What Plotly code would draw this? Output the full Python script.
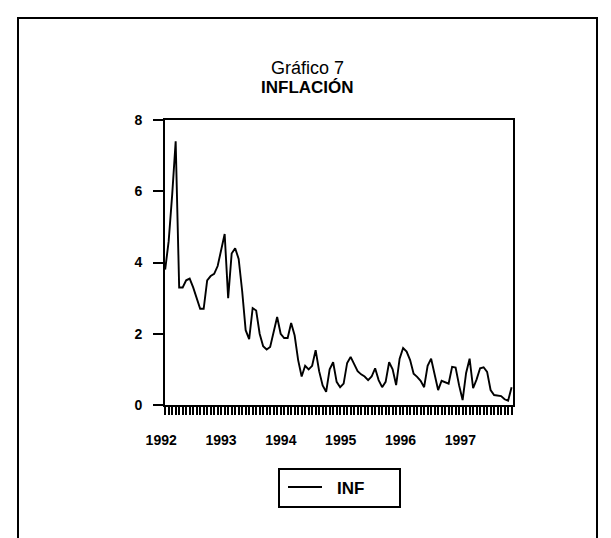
import plotly.graph_objects as go

# monthly inflation series
inf = [
    3.8, 4.6, 5.9, 7.4, 3.3, 3.3, 3.5, 3.55, 3.3, 3.0,
    2.7, 2.7, 3.5, 3.62, 3.68, 3.9, 4.35, 4.8, 3.0, 4.25,
    4.4, 4.1, 3.2, 2.1, 1.85, 2.72, 2.65, 2.0, 1.65, 1.56,
    1.63, 2.05, 2.47, 2.0, 1.88, 1.88, 2.3, 1.95, 1.26, 0.8,
    1.1, 1.0, 1.1, 1.54, 0.95, 0.55, 0.37, 1.0, 1.2, 0.65,
    0.5, 0.6, 1.18, 1.35, 1.15, 0.95, 0.86, 0.8, 0.7, 0.8,
    1.03, 0.7, 0.5, 0.65, 1.2, 1.0, 0.56, 1.3, 1.6, 1.5,
    1.26, 0.88, 0.79, 0.68, 0.5, 1.1, 1.3, 0.85, 0.42, 0.68,
    0.65, 0.6, 1.07, 1.05, 0.55, 0.14, 0.9, 1.3, 0.47, 0.72,
    1.03, 1.06, 0.93, 0.42, 0.28, 0.27, 0.25, 0.16, 0.12, 0.5,
]
obs = list(range(len(inf)))
years = ["1992", "1993", "1994", "1995", "1996", "1997"]
y_ticks = [0, 2, 4, 6, 8]

W, H = 611, 538
OFF = 8  # page body margin
L, R, T, B = 165 - OFF, 513 - OFF, 120 - OFF, 405 - OFF  # plot box in figure px

FONT = "Liberation Sans, Arial"


def px(x):  # screen x -> paper
    return (x - OFF - L) / (R - L)


def py(y):  # screen y -> paper
    return (B - (y - OFF)) / (B - T)


fig = go.Figure()
fig.add_trace(go.Scatter(x=obs, y=inf, mode="lines", name="INF",
                         line=dict(color="black", width=1.9), showlegend=False))

tick_font = dict(family=FONT, size=14, color="black", weight="bold")

fig.update_layout(
    width=W, height=H,
    margin=dict(l=L, r=W - R, t=T, b=H - B),
    paper_bgcolor="white", plot_bgcolor="white",
    xaxis=dict(
        range=[-0.05, 99.4], showgrid=False, zeroline=False,
        showline=True, linecolor="black", linewidth=2, mirror=True,
        tickvals=[i * 17.1 for i in range(len(years))], ticktext=years,
        ticks="outside", ticklen=0, ticklabelstandoff=21, ticklabelshift=-4,
        tickfont=tick_font,
        minor=dict(dtick=1, tick0=0, ticks="outside", ticklen=8,
                   tickwidth=2, tickcolor="black", showgrid=False),
    ),
    yaxis=dict(
        range=[0, 8], showgrid=False, zeroline=False,
        showline=True, linecolor="black", linewidth=2, mirror=True,
        tickvals=y_ticks, ticks="outside", ticklen=10, tickwidth=2,
        tickcolor="black", ticklabelstandoff=8,
        tickfont=tick_font,
    ),
)

# outer frame (open at the bottom)
fig.add_shape(type="rect", xref="paper", yref="paper",
              x0=px(18), x1=px(597), y0=py(570), y1=py(18),
              line=dict(color="black", width=2), layer="below")

# titles
fig.add_annotation(x=px(307), y=py(68), xref="paper", yref="paper",
                   text="Gráfico 7", showarrow=False, yanchor="middle",
                   font=dict(family=FONT, size=18, color="black"))
fig.add_annotation(x=px(307), y=py(87), xref="paper", yref="paper",
                   text="<b>INFLACIÓN</b>", showarrow=False, yanchor="middle",
                   font=dict(family=FONT, size=17, color="black"))

# legend box
fig.add_shape(type="rect", xref="paper", yref="paper",
              x0=px(279), x1=px(400), y0=py(507), y1=py(469),
              line=dict(color="black", width=2))
fig.add_shape(type="line", xref="paper", yref="paper",
              x0=px(288), x1=px(322), y0=py(487), y1=py(487),
              line=dict(color="black", width=2))
fig.add_annotation(x=px(350), y=py(488), xref="paper", yref="paper",
                   text="<b>INF</b>", showarrow=False, yanchor="middle",
                   font=dict(family=FONT, size=17, color="black"))

fig.write_html("out.html")
